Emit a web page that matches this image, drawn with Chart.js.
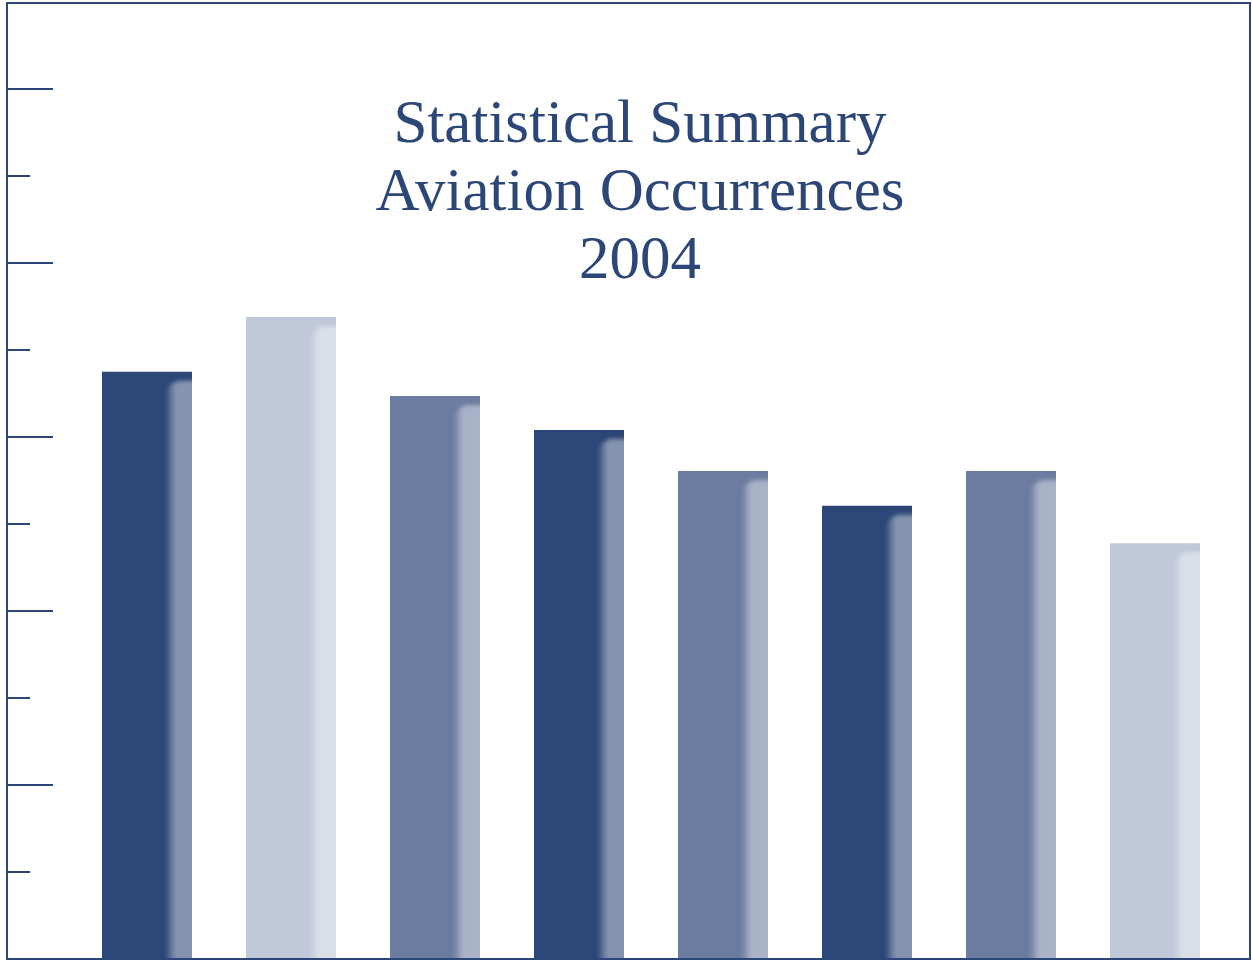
<!DOCTYPE html>
<html>
<head>
<meta charset="utf-8">
<script src="https://cdn.jsdelivr.net/npm/chart.js@4"></script>
<style>
  body { margin: 0; background: #fff; }
  .wrap { position: relative; width: 1252px; height: 961px; }
  .Title {
    position: absolute; left: 340px; width: 600px; top: 88px;
    text-align: center; color: #2c4677;
    font-family: "Liberation Serif", "DejaVu Serif", serif;
    font-size: 61px; line-height: 68px;
  }
</style>
</head>
<body>
<div class="wrap">
  <canvas id="OccCha" width="1252" height="961"></canvas>
  <div class="Title">Statistical Summary<br>Aviation Occurrences<br>2004</div>
</div>
<script>
const categories = ['1', '2', '3', '4', '5', '6', '7', '8'];
const values = [6.75, 7.38, 6.47, 6.08, 5.61, 5.21, 5.61, 4.78];
const tickValues = [1, 2, 3, 4, 5, 6, 7, 8, 9, 10];

const dark = '#2c4677';
const mid = '#6b7ca0';
const light = '#c0c8d9';
const barColors = [dark, light, mid, dark, mid, dark, mid, light];

// frame round the whole picture + the little ticks on the left
const framePlugin = {
    id: 'frame',
    afterDraw(chart) {
        const ctx = chart.ctx;
        const yScale = chart.scales.y;
        ctx.save();
        ctx.strokeStyle = dark;
        ctx.lineWidth = 2;
        ctx.strokeRect(7, 3, 1243, 956);
        tickValues.forEach(v => {
            const y = Math.round(yScale.getPixelForValue(v));
            const len = v % 2 === 0 ? 46 : 23;
            ctx.beginPath();
            ctx.moveTo(7, y);
            ctx.lineTo(7 + len, y);
            ctx.stroke();
        });
        ctx.restore();
    }
};

// lighter bevelled strip on the right side of each bar
const shadePlugin = {
    id: 'shade',
    afterDatasetsDraw(chart) {
        const ctx = chart.ctx;
        const meta = chart.getDatasetMeta(0);
        meta.data.forEach(bar => {
            const right = bar.x + bar.width / 2;
            const left = right - 27;
            const top = bar.y + 9;
            ctx.save();
            ctx.beginPath();
            ctx.rect(bar.x - bar.width / 2, bar.y, bar.width, bar.base - bar.y);
            ctx.clip();
            ctx.filter = 'blur(2px)';
            const g = ctx.createLinearGradient(left, 0, left + 10, 0);
            g.addColorStop(0, 'rgba(255,255,255,0)');
            g.addColorStop(1, 'rgba(255,255,255,0.42)');
            ctx.fillStyle = g;
            ctx.beginPath();
            ctx.roundRect(left, top, right - left + 10, bar.base - top + 10, [16, 0, 0, 14]);
            ctx.fill();
            ctx.restore();
        });
    }
};

new Chart(document.getElementById('OccCha').getContext('2d'), {
    type: 'bar',
    data: {
        labels: categories,
        datasets: [{
            data: values,
            backgroundColor: barColors,
            borderWidth: 0,
            categoryPercentage: 1,
            barPercentage: 0.625
        }]
    },
    options: {
        responsive: false,
        animation: false,
        layout: { padding: { left: 75, right: 25, top: 2, bottom: 2 } },
        scales: {
            x: { display: false },
            y: { display: false, min: 0, max: 11, ticks: { stepSize: 1 } }
        },
        plugins: {
            legend: { display: false },
            tooltip: { enabled: false }
        }
    },
    plugins: [shadePlugin, framePlugin]
});
</script>
</body>
</html>
